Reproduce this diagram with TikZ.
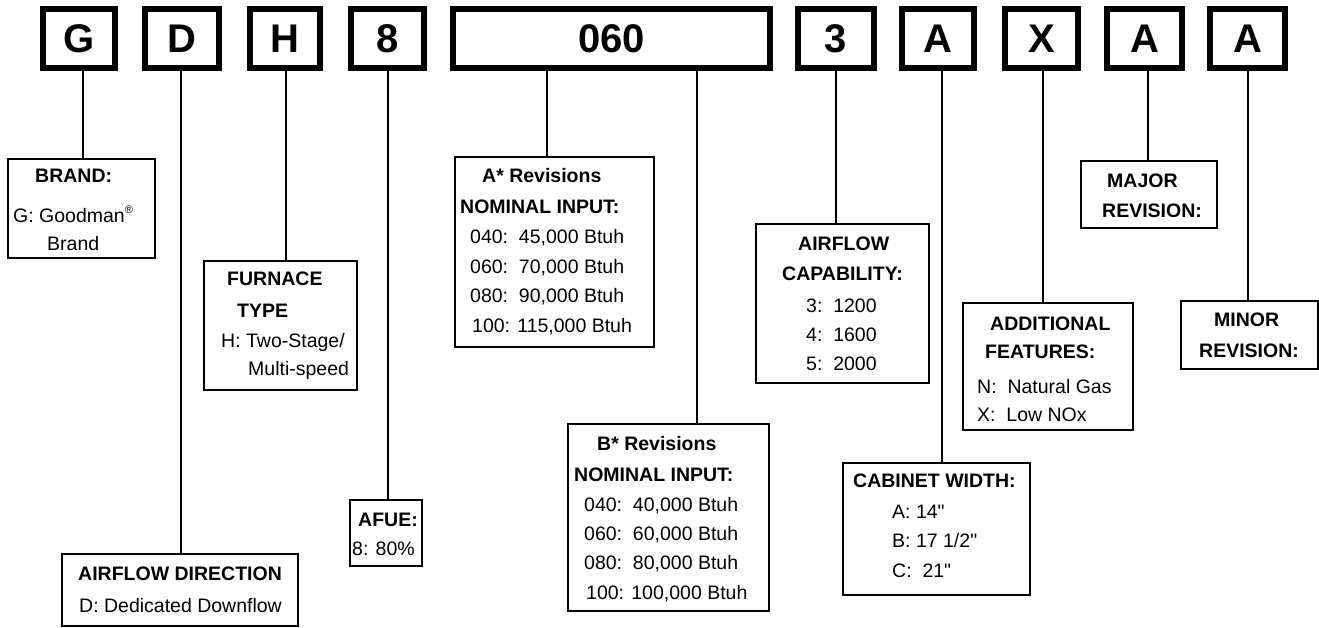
\documentclass[tikz,border=0pt]{standalone}
\usepackage{fontspec}
\setmainfont{Liberation Sans}
\newfontfamily\qfont{Liberation Sans}[Ligatures=ResetAll]
\begin{document}
\begin{tikzpicture}[x=1pt,y=-1pt,
  codebox/.style={draw,line width=6pt,inner sep=0pt,minimum height=59pt,font=\fontsize{40}{40}\selectfont\bfseries},
  infobox/.style={draw,line width=1.3pt,inner sep=0pt,outer sep=0pt,anchor=north west},
  conn/.style={line width=1.3pt},
  txt/.style={inner sep=0pt,anchor=base west,font=\fontsize{19.5}{24}\selectfont},
  btxt/.style={txt,font=\fontsize{19.5}{24}\selectfont\bfseries}]
\useasboundingbox (0,0) rectangle (1319,627);
\newcommand\mybox[5]{\node[infobox,minimum width=#4pt-#2pt,minimum height=#5pt-#3pt] (#1) at (#2,#3) {};}
\newcommand\inch{{\qfont"}}
% code boxes
\node[codebox,minimum width=72pt] (cG) at (79,38.5) {G};
\node[codebox,minimum width=74pt] (cD) at (182,38.5) {D};
\node[codebox,minimum width=70pt] (cH) at (285,38.5) {H};
\node[codebox,minimum width=73pt] (c8) at (387.5,38.5) {8};
\node[codebox,minimum width=317pt] (c060) at (611.5,38.5) {060};
\node[codebox,minimum width=76pt] (c3) at (836,38.5) {3};
\node[codebox,minimum width=72pt] (cA) at (938,38.5) {A};
\node[codebox,minimum width=73pt] (cX) at (1041.5,38.5) {X};
\node[codebox,minimum width=75pt] (cMaj) at (1144.5,38.5) {A};
\node[codebox,minimum width=75pt] (cMin) at (1247.5,38.5) {A};
% info boxes
\mybox{brand}{8}{159}{155}{258}
\mybox{furnace}{204}{261}{357}{390}
\mybox{airdir}{62}{554}{298}{626}
\mybox{afue}{350}{500}{422}{566}
\mybox{astar}{455}{157}{654}{347}
\mybox{bstar}{568}{424}{769}{611}
\mybox{aircap}{756}{224}{929}{383}
\mybox{cabinet}{843}{463}{1030}{595}
\mybox{addl}{963}{303}{1133}{430}
\mybox{major}{1081}{161}{1217}{228}
\mybox{minor}{1181}{301}{1318}{369}
% connector x positions
\coordinate (pG) at (83,0);
\coordinate (pD) at (181,0);
\coordinate (pH) at (286,0);
\coordinate (p8) at (388,0);
\coordinate (pA1) at (547,0);
\coordinate (pB1) at (697,0);
\coordinate (p3) at (836,0);
\coordinate (pA) at (942,0);
\coordinate (pX) at (1043,0);
\coordinate (pMaj) at (1148,0);
\coordinate (pMin) at (1248,0);
\draw[conn] (cG.south -| pG) -- (brand.north -| pG);
\draw[conn] (cD.south -| pD) -- (airdir.north -| pD);
\draw[conn] (cH.south -| pH) -- (furnace.north -| pH);
\draw[conn] (c8.south -| p8) -- (afue.north -| p8);
\draw[conn] (c060.south -| pA1) -- (astar.north -| pA1);
\draw[conn] (c060.south -| pB1) -- (bstar.north -| pB1);
\draw[conn] (c3.south -| p3) -- (aircap.north -| p3);
\draw[conn] (cA.south -| pA) -- (cabinet.north -| pA);
\draw[conn] (cX.south -| pX) -- (addl.north -| pX);
\draw[conn] (cMaj.south -| pMaj) -- (major.north -| pMaj);
\draw[conn] (cMin.south -| pMin) -- (minor.north -| pMin);
% texts
\node[btxt] (t1) at (35,182) {BRAND:};
\node[txt] (t2) at (13,222) {G: Goodman\raisebox{9pt}{\fontsize{11}{11}\selectfont ®}};
\node[txt] (t3) at (47,250) {Brand};
\node[btxt] (t4) at (227,285) {FURNACE};
\node[btxt] (t5) at (237,317) {TYPE};
\node[txt] (t6) at (221,347) {H: Two-Stage/};
\node[txt] (t7) at (248,375) {Multi-speed};
\node[btxt] (t8) at (78,580) {AIRFLOW DIRECTION};
\node[txt] (t9) at (79,612) {D: Dedicated Downflow};
\node[btxt] (t10) at (358,526) {AFUE:};
\node[txt] (t11) at (352,555) {8: 80\%};
\node[btxt] (t12) at (482,182) {A* Revisions};
\node[btxt] (t13) at (460,213) {NOMINAL INPUT:};
\node[txt] (t14) at (470,243) {040:\ \ 45,000 Btuh};
\node[txt] (t15) at (470,273) {060:\ \ 70,000 Btuh};
\node[txt] (t16) at (470,302) {080:\ \ 90,000 Btuh};
\node[txt] (t17) at (472,332) {100: 115,000 Btuh};
\node[btxt] (t18) at (597,450) {B* Revisions};
\node[btxt] (t19) at (574,481) {NOMINAL INPUT:};
\node[txt] (t20) at (584,511) {040:\ \ 40,000 Btuh};
\node[txt] (t21) at (584,540) {060:\ \ 60,000 Btuh};
\node[txt] (t22) at (584,569) {080:\ \ 80,000 Btuh};
\node[txt] (t23) at (586,599) {100: 100,000 Btuh};
\node[btxt] (t24) at (798,250) {AIRFLOW};
\node[btxt] (t25) at (782,280) {CAPABILITY:};
\node[txt] (t26) at (806,312) {3:\ \ 1200};
\node[txt] (t27) at (806,341) {4:\ \ 1600};
\node[txt] (t28) at (806,370) {5:\ \ 2000};
\node[btxt] (t29) at (853,487) {CABINET WIDTH:};
\node[txt] (t30) at (892,518) {A: 14\inch};
\node[txt] (t31) at (892,547) {B: 17 1/2\inch};
\node[txt] (t32) at (892,577) {C:\ \ 21\inch};
\node[btxt] (t33) at (990,330) {ADDITIONAL};
\node[btxt] (t34) at (985,358) {FEATURES:};
\node[txt] (t35) at (977,393) {N:\ \ Natural Gas};
\node[txt] (t36) at (977,421) {X:\ \ Low NOx};
\node[btxt] (t37) at (1107,187) {MAJOR};
\node[btxt] (t38) at (1102,217) {REVISION:};
\node[btxt] (t39) at (1214,326) {MINOR};
\node[btxt] (t40) at (1199,357) {REVISION:};
\end{tikzpicture}
\end{document}
